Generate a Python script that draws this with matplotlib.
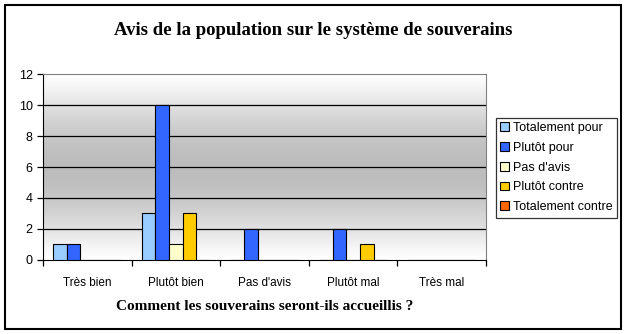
import matplotlib.pyplot as plt
import numpy as np
from matplotlib.patches import Patch, Rectangle

plt.rcParams['font.family'] = ['Liberation Sans', 'DejaVu Sans']

categories = ['Très bien', 'Plutôt bien', "Pas d'avis", 'Plutôt mal', 'Très mal']
series_names = ['Totalement pour', 'Plutôt pour', "Pas d'avis", 'Plutôt contre', 'Totalement contre']
totalement_pour = [1, 3, 0, 0, 0]
plutot_pour = [1, 10, 2, 2, 0]
pas_avis = [0, 1, 0, 0, 0]
plutot_contre = [0, 3, 0, 1, 0]
totalement_contre = [0, 0, 0, 0, 0]
colors = ['#99CCFF', '#3366FF', '#FFFFCC', '#FFCC00', '#FF6600']

series = [totalement_pour, plutot_pour, pas_avis, plutot_contre, totalement_contre]

fig = plt.figure(figsize=(6.27, 3.34), dpi=100)
ax = fig.add_axes([0.0686, 0.2216, 0.7065, 0.5568])

# fond en dégradé : blanc en haut et en bas, gris au milieu
t = np.linspace(0, 1, 256)
shade = 1 - 0.26 * np.sin(np.pi * t) ** 1.2
grad = np.dstack([shade, shade, shade])[0][:, None, :]
ax.imshow(grad, extent=[0, 5, 0, 12], aspect='auto', zorder=0, origin='lower')

n = len(series)
w = 1 / (n + 1.5)
x = np.arange(len(categories))
for i, (vals, c) in enumerate(zip(series, colors)):
    pos = x + 0.75 * w + i * w + w / 2
    ax.bar(pos, vals, width=w, color=c, edgecolor='black', linewidth=0.8, zorder=3)

ax.set_xlim(0, 5)
ax.set_ylim(0, 12)
ax.set_yticks(range(0, 13, 2))
for yv in range(2, 12, 2):
    ax.axhline(yv, color='black', linewidth=0.9, zorder=1)

ax.set_xticks(np.arange(0, 6))
ax.set_xticklabels([])
ax.set_xticks(x + 0.5, minor=True)
ax.set_xticklabels(categories, minor=True)
ax.tick_params(axis='x', which='minor', length=0, pad=12, labelsize=8.5)
ax.tick_params(axis='x', which='major', direction='out', length=4, width=0.9)
ax.tick_params(axis='y', direction='out', length=4, width=0.9, labelsize=9)

ax.spines['left'].set_color('black')
ax.spines['bottom'].set_color('black')
ax.spines['top'].set_color('#808080')
ax.spines['right'].set_color('#808080')

ax.set_xlabel('Comment les souverains seront-ils accueillis ?', family=['Liberation Serif'],
              fontweight='bold', fontsize=11, labelpad=8)

fig.text(0.5, 0.908, 'Avis de la population sur le système de souverains',
         family=['Liberation Serif'], fontweight='bold', fontsize=13.5, ha='center', va='center')

handles = [Patch(facecolor=c, edgecolor='black', linewidth=0.8) for c in colors]
leg = fig.legend(handles, series_names, loc='center left', bbox_to_anchor=(0.791, 0.498),
                 fontsize=9, frameon=True, fancybox=False, edgecolor='black',
                 handlelength=0.7, handleheight=0.7, handletextpad=0.3,
                 borderpad=0.35, labelspacing=0.62, borderaxespad=0)
leg.get_frame().set_linewidth(0.9)

# cadre extérieur
fig.patches.append(Rectangle((0.008, 0.015), 0.983, 0.97, transform=fig.transFigure,
                             fill=False, edgecolor='black', linewidth=1.5))

fig.savefig('out.png', dpi=100)
